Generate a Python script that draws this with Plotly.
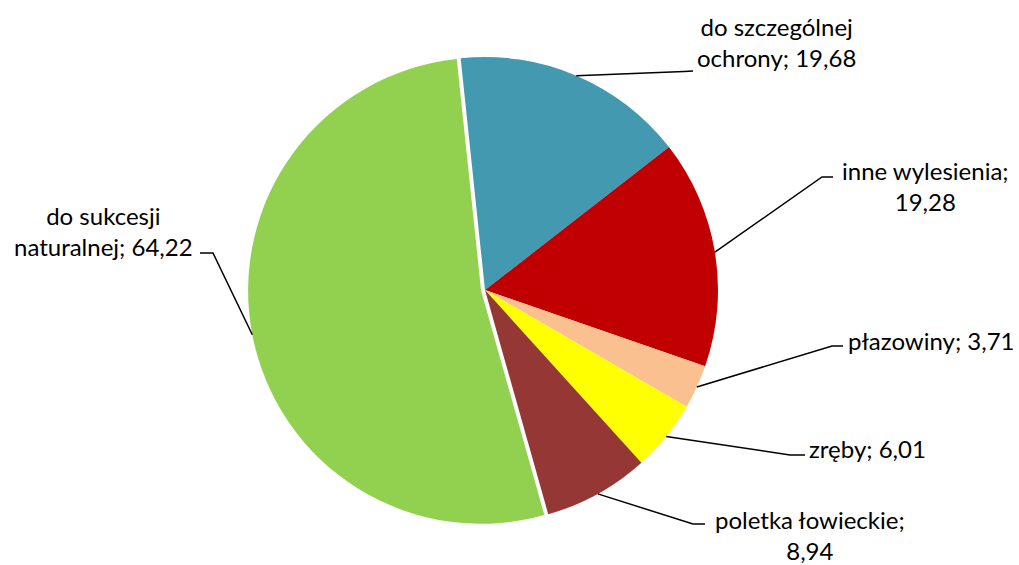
import math
import plotly.graph_objects as go

# ---- data ----
labels = ["do szczególnej ochrony", "inne wylesienia", "płazowiny", "zręby",
          "poletka łowieckie", "do sukcesji naturalnej"]
values = [19.68, 19.28, 3.71, 6.01, 8.94, 64.22]
colors = ["#4399B0", "#C00000", "#FAC090", "#FFFF00", "#953735", "#92D050"]
pulls = [0, 0, 0, 0, 0, 0.017]

# ---- layout constants (pixels) ----
W, H = 1019, 565
CX, CY, R = 485, 290, 233
ROTATION = -6
FONT = "Lato"
FSIZE = 24

# label text placement: (center x, center y, template) in slice order
label_pos = [
    (776, 42, "do szczególnej<br>ochrony; {v}"),
    (925, 186, "inne wylesienia;<br>{v}"),
    (931, 340, "płazowiny; {v}"),
    (867, 448, "zręby; {v}"),
    (810, 535, "poletka łowieckie;<br>{v}"),
    (103, 231, "do sukcesji<br>naturalnej; {v}"),
]
# leader elbows: (elbow x, elbow y, end x, end y) in slice order
leader_pts = [
    (684, 71.5, 693, 71),
    (822, 177, 833, 177),
    (832, 346, 843, 346),
    (790, 455, 805, 455),
    (693, 524, 705, 524),
    (213, 253, 200, 253),
]

maxpull = max(pulls)
half = R * (1 + maxpull)
dom_x = [(CX - half) / W, (CX + half) / W]
dom_y = [1 - (CY + half) / H, 1 - (CY - half) / H]

fig = go.Figure(go.Pie(
    labels=labels, values=values, sort=False, direction="clockwise",
    rotation=ROTATION, pull=pulls, textinfo="none", hoverinfo="skip",
    marker=dict(colors=colors, line=dict(width=0)),
    domain=dict(x=dom_x, y=dom_y), showlegend=False,
))

def px(x):
    return x / W

def py(y):
    return 1 - y / H

total = sum(values)
shapes = []
annotations = []
start = ROTATION
for i, v in enumerate(values):
    span = v / total * 360
    mid = math.radians(start + span / 2)
    start += span
    ox = pulls[i] * R * math.sin(mid)
    oy = -pulls[i] * R * math.cos(mid)
    sx = CX + ox + R * math.sin(mid)
    sy = CY + oy - R * math.cos(mid)
    ex, ey, tx, ty = leader_pts[i]
    path = f"M {px(sx)},{py(sy)} L {px(ex)},{py(ey)} L {px(tx)},{py(ty)}"
    shapes.append(dict(type="path", xref="paper", yref="paper", path=path,
                       line=dict(color="black", width=1.5)))
    lx, ly, tmpl = label_pos[i]
    txt = tmpl.format(v=f"{v:.2f}".replace(".", ","))
    annotations.append(dict(x=px(lx), y=py(ly), xref="paper", yref="paper",
                            text=txt, showarrow=False, xanchor="center",
                            yanchor="middle", align="center",
                            font=dict(family=FONT, size=FSIZE, color="black")))

fig.update_layout(
    width=W, height=H, margin=dict(l=0, r=0, t=0, b=0),
    paper_bgcolor="white", plot_bgcolor="white",
    shapes=shapes, annotations=annotations,
)
fig.write_html("out.html", config={"displayModeBar": False},
               post_script="document.body.style.margin='0px';")
